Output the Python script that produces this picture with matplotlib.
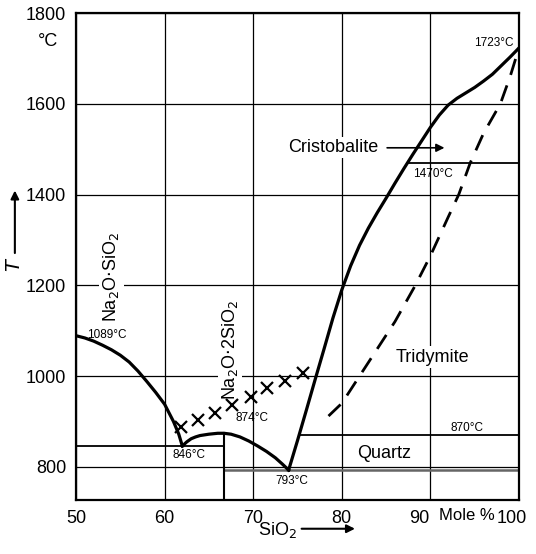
import numpy as np
import matplotlib.pyplot as plt
import matplotlib.transforms as mtransforms

plt.rcParams['font.family'] = ['Liberation Sans', 'DejaVu Sans']

# liquidus branches (mole % SiO2, deg C)
x_meta = [50, 51, 52, 53, 54, 55, 56, 57, 58, 59, 60, 61, 61.6, 62]
t_meta = [1089, 1084, 1077, 1068, 1058, 1046, 1031, 1011, 988, 964, 938, 900, 872, 846]

x_di = [62, 62.5, 63, 63.5, 64, 65, 66, 66.7, 67.5, 68.5, 69.5, 70.5, 71.5, 72.5, 73.3, 74]
t_di = [846, 855, 862, 866, 869, 872, 874, 874, 872, 866, 857, 846, 834, 820, 806, 793]

x_silica = [74, 75, 76, 77, 78, 79, 80, 81, 82, 83, 84, 85, 86, 87, 88, 89, 90,
            91, 92, 93, 94, 95, 96, 97, 98, 99, 100]
t_silica = [793, 858, 925, 993, 1060, 1128, 1190, 1243, 1288, 1326, 1360, 1392,
            1425, 1457, 1488, 1518, 1548, 1575, 1597, 1612, 1624, 1636, 1650,
            1665, 1684, 1703, 1723]

# metastable cristobalite liquidus (dashed)
x_dash = [78.5, 80, 82, 84, 86, 88.3, 90, 92, 93.2, 94.5, 96, 97.9, 99, 100]
t_dash = [912, 940, 1000, 1060, 1120, 1200, 1265, 1350, 1400, 1470, 1535, 1600, 1660, 1723]

# crosses above the disilicate field
x_cross = [61.9, 63.75, 65.7, 67.6, 69.7, 71.6, 73.6, 75.6]
t_cross = [888, 903, 919, 937, 954, 974, 989, 1007]

# isotherms: temperature, from, to
iso_t = [846, 870, 1470]
iso_x0 = [50, 75.2, 87.4]
iso_x1 = [66.7, 100, 100]

xticks = [50, 60, 70, 80, 90, 100]
yticks = [800, 1000, 1200, 1400, 1600, 1800]

fig = plt.figure(figsize=(5.36, 5.54), dpi=100)
ax = fig.add_axes([76/536, 54/554, 443/536, 487/554])
ax.set_xlim(50, 100)
ax.set_ylim(727, 1800)
ax.set_xticks(xticks)
ax.set_yticks(yticks)
ax.tick_params(length=0, labelsize=13, pad=7)
ax.grid(True, color='black', lw=0.9)
ax.set_axisbelow(True)
for s in ax.spines.values():
    s.set_linewidth(1.6)

# squeeze the last two tick labels left to leave room for the unit
xt = ax.xaxis.get_major_ticks()
for tick, dx in zip(xt[-2:], [-0.11, -0.07]):
    lab = tick.label1
    lab.set_transform(lab.get_transform() +
                      mtransforms.ScaledTranslation(dx, 0, fig.dpi_scale_trans))

lw = 2.3
ax.plot(x_meta, t_meta, 'k-', lw=lw, zorder=4)
ax.plot(x_di, t_di, 'k-', lw=lw, zorder=4)
ax.plot(x_silica, t_silica, 'k-', lw=lw, zorder=4)
ax.plot(x_dash, t_dash, 'k-', lw=2.0, dashes=(6, 4), zorder=4)
ax.plot(x_cross, t_cross, 'kx', ms=8, mew=1.6, ls='none', zorder=4)

for t, a, b in zip(iso_t, iso_x0, iso_x1):
    ax.plot([a, b], [t, t], 'k-', lw=1.3, zorder=2)
ax.plot([66.7, 100], [793, 793], color='0.4', lw=1.8, zorder=2)
ax.plot([66.7, 66.7], [727, 874], 'k-', lw=1.5, zorder=2)

wb = dict(facecolor='white', edgecolor='none', pad=1.5)
small = 8.5
ax.text(53.5, 1090, '1089°C', fontsize=small, ha='center', va='center')
ax.text(62.8, 826, '846°C', fontsize=small, ha='center', va='center')
ax.text(69.9, 908, '874°C', fontsize=small, ha='center', va='center')
ax.text(74.3, 769, '793°C', fontsize=small, ha='center', va='center')
ax.text(94.1, 886, '870°C', fontsize=small, ha='center', va='center')
ax.text(90.3, 1445, '1470°C', fontsize=small, ha='center', va='center')
ax.text(99.4, 1735, '1723°C', fontsize=small, ha='right', va='center')

ax.text(54.0, 1218, 'Na$_2$O$\\cdot$SiO$_2$', fontsize=13, rotation=90,
        ha='center', va='center', bbox=wb, zorder=3)
ax.text(67.4, 1058, 'Na$_2$O$\\cdot$2SiO$_2$', fontsize=13, rotation=90,
        ha='center', va='center', bbox=wb, zorder=3)
ax.text(90.2, 1042, 'Tridymite', fontsize=13, ha='center', va='center',
        bbox=wb, zorder=3)
ax.text(84.8, 829, 'Quartz', fontsize=13, ha='center', va='center', zorder=3)
ax.text(73.9, 1503, 'Cristobalite', fontsize=13, ha='left', va='center',
        bbox=wb, zorder=3)
ax.annotate('', xy=(91.9, 1503), xytext=(84.8, 1503),
            arrowprops=dict(arrowstyle='-|>', color='black', lw=1.2,
                            mutation_scale=12), zorder=3)

# axis captions
tb = mtransforms.blended_transform_factory(ax.transAxes, ax.transData)
ax.text(-0.063, 1738, '°C', transform=tb, fontsize=13, ha='center', va='center')
ax.text(-0.138, 1245, '$T$', transform=tb, fontsize=14, rotation=90,
        ha='center', va='center')
ax.annotate('', xy=(-0.138, 1415), xytext=(-0.138, 1265), xycoords=tb,
            textcoords=tb, arrowprops=dict(arrowstyle='-|>', color='black',
                                           lw=1.5, mutation_scale=12),
            annotation_clip=False)

ax.text(0.455, -0.062, 'SiO$_2$', transform=ax.transAxes, fontsize=13,
        ha='center', va='center')
ax.annotate('', xy=(0.636, -0.059), xytext=(0.503, -0.059),
            xycoords='axes fraction', textcoords='axes fraction',
            arrowprops=dict(arrowstyle='-|>', color='black', lw=1.5,
                            mutation_scale=12), annotation_clip=False)
ax.text(0.882, -0.031, 'Mole %', transform=ax.transAxes, fontsize=12,
        ha='center', va='center')

fig.savefig('out.png', dpi=100)
